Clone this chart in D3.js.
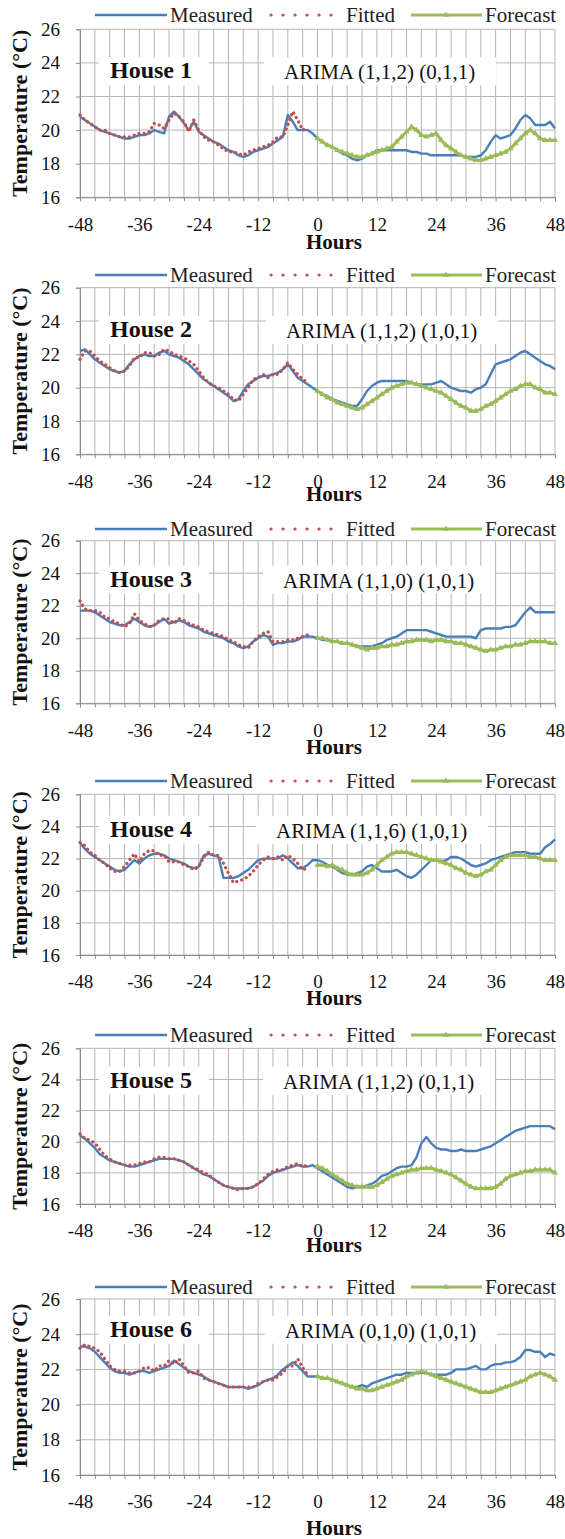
<!DOCTYPE html>
<html><head><meta charset="utf-8">
<script src="https://cdn.jsdelivr.net/npm/d3@7"></script>
<style>body{margin:0;background:#fff}svg{display:block}
svg text{font-family:"Liberation Serif","Tinos","Times New Roman","DejaVu Serif",serif !important;}</style>
</head><body>
<svg id="c" width="565" height="1539"></svg>
<script>
// ---------- DATA ----------
const xTicks = [-48,-36,-24,-12,0,12,24,36,48];
const yTicks = [16,18,20,22,24,26];
const seriesNames = ["Measured","Fitted","Forecast"];
const houseLabels = ["House 1","House 2","House 3","House 4","House 5","House 6"];
const arimaLabels = ["ARIMA (1,1,2) (0,1,1)","ARIMA (1,1,2) (1,0,1)","ARIMA (1,1,0) (1,0,1)","ARIMA (1,1,6) (1,0,1)","ARIMA (1,1,2) (0,1,1)","ARIMA (0,1,0) (1,0,1)"];
const measuredStart = -48, fittedStart = -48, forecastStart = 0;

const measured1 = [20.8,20.6,20.4,20.2,20.0,19.9,19.8,19.7,19.6,19.5,19.5,19.6,
 19.7,19.7,19.8,20.0,19.9,19.8,20.8,21.1,20.8,20.4,20.0,20.5,
 19.9,19.7,19.5,19.3,19.2,19.0,18.8,18.7,18.5,18.4,18.5,18.7,
 18.8,18.9,19.0,19.2,19.4,19.6,20.9,20.5,20.0,20.0,20.0,19.8,
 19.5,19.3,19.1,19.0,18.8,18.6,18.5,18.3,18.2,18.3,18.5,18.6,
 18.8,18.8,18.8,18.8,18.8,18.8,18.8,18.7,18.7,18.6,18.6,18.5,
 18.5,18.5,18.5,18.5,18.5,18.5,18.4,18.4,18.4,18.5,18.8,19.3,
 19.7,19.5,19.6,19.7,20.1,20.6,20.9,20.7,20.3,20.3,20.3,20.5,20.1];
const fitted1 = [20.9,20.6,20.4,20.2,20.0,20.0,19.8,19.7,19.6,19.6,19.6,19.7,
 19.8,19.8,19.9,20.4,20.3,20.1,20.6,21.0,20.8,20.5,19.9,20.6,
 20.0,19.6,19.4,19.3,19.1,18.9,18.7,18.7,18.6,18.5,18.7,18.8,
 18.9,19.0,19.1,19.3,19.6,19.6,20.3,21.1,20.6,20.0,20.2];
const forecast1 = [19.5,19.3,19.1,19.0,18.8,18.7,18.6,18.5,18.4,18.4,18.5,18.6,
 18.7,18.8,18.9,19.0,19.3,19.6,19.9,20.2,20.0,19.7,19.6,19.7,
 19.8,19.4,19.1,18.9,18.7,18.5,18.4,18.3,18.2,18.2,18.3,18.4,
 18.5,18.6,18.7,18.9,19.2,19.5,19.8,20.0,19.8,19.5,19.4,19.4,19.4];

const measured2 = [22.2,22.3,22.0,21.7,21.5,21.3,21.1,21.0,20.9,21.0,21.4,21.7,
 21.9,22.0,21.9,21.9,22.1,22.2,22.0,21.9,21.8,21.6,21.4,21.1,
 20.8,20.5,20.3,20.1,19.9,19.7,19.5,19.2,19.3,19.8,20.2,20.4,
 20.6,20.7,20.7,20.8,20.9,21.1,21.4,21.0,20.6,20.4,20.2,20.0,
 19.8,19.6,19.5,19.3,19.2,19.1,19.0,18.9,18.9,19.3,19.8,20.1,
 20.3,20.4,20.4,20.4,20.4,20.4,20.4,20.3,20.2,20.2,20.2,20.2,
 20.3,20.4,20.2,20.0,19.9,19.8,19.8,19.7,19.9,20.0,20.2,20.8,
 21.4,21.5,21.6,21.7,21.9,22.1,22.2,22.0,21.8,21.6,21.4,21.3,21.1];
const fitted2 = [21.7,22.2,22.2,21.9,21.6,21.4,21.2,21.0,20.9,21.0,21.3,21.8,
 21.8,22.1,22.1,21.9,22.0,22.3,22.2,22.0,21.9,21.8,21.6,21.4,
 21.0,20.6,20.3,20.1,20.0,19.8,19.6,19.3,19.2,19.6,20.0,20.5,
 20.6,20.8,20.6,20.8,20.8,21.1,21.5,21.1,20.8,20.5,20.3];
const forecast2 = [19.8,19.6,19.4,19.3,19.1,19.0,18.9,18.8,18.7,18.8,19.0,19.2,
 19.4,19.6,19.8,20.0,20.1,20.2,20.3,20.3,20.2,20.1,20.0,19.9,
 19.8,19.7,19.5,19.3,19.1,18.9,18.8,18.6,18.6,18.7,18.9,19.0,
 19.2,19.4,19.6,19.8,19.9,20.1,20.2,20.2,20.0,19.9,19.7,19.7,19.6];

const measured3 = [21.7,21.7,21.7,21.6,21.4,21.2,21.0,20.9,20.8,20.8,21.0,21.2,
 21.0,20.8,20.7,20.8,21.0,21.2,20.9,21.0,21.1,21.0,20.8,20.7,
 20.6,20.4,20.3,20.2,20.1,20.0,19.8,19.7,19.5,19.4,19.5,19.8,
 20.0,20.2,20.1,19.6,19.7,19.7,19.8,19.8,19.9,20.1,20.1,20.1,
 20.0,19.9,19.9,19.8,19.8,19.7,19.7,19.6,19.5,19.5,19.5,19.5,
 19.6,19.7,19.9,20.0,20.1,20.3,20.5,20.5,20.5,20.5,20.5,20.4,
 20.3,20.2,20.1,20.1,20.1,20.1,20.1,20.1,20.0,20.5,20.6,20.6,
 20.6,20.6,20.7,20.7,20.8,21.2,21.6,21.9,21.6,21.6,21.6,21.6,21.6];
const fitted3 = [22.3,21.8,21.7,21.7,21.6,21.3,21.2,21.0,20.9,20.7,20.9,21.5,
 21.1,20.9,20.7,20.8,21.1,21.2,21.2,20.9,21.2,21.1,20.9,20.8,
 20.7,20.5,20.4,20.3,20.2,20.1,19.9,19.8,19.6,19.5,19.4,19.8,
 20.1,20.3,20.4,19.8,19.8,19.8,19.9,19.9,20.0,20.1,20.2];
const forecast3 = [20.0,20.0,19.9,19.8,19.8,19.7,19.7,19.6,19.5,19.4,19.3,19.4,
 19.4,19.5,19.5,19.6,19.6,19.7,19.8,19.8,19.9,19.9,19.9,19.8,
 19.9,19.9,19.8,19.8,19.7,19.7,19.6,19.5,19.4,19.3,19.2,19.3,
 19.3,19.4,19.5,19.5,19.6,19.6,19.7,19.8,19.8,19.8,19.8,19.7,19.7];

const measured4 = [23.0,22.6,22.3,22.1,21.9,21.7,21.5,21.3,21.2,21.3,21.6,21.9,
 21.7,22.0,22.2,22.3,22.3,22.2,22.0,21.9,21.8,21.7,21.5,21.4,
 21.5,22.2,22.3,22.2,22.1,20.8,20.8,20.8,20.9,21.1,21.3,21.6,
 21.9,22.0,22.0,22.0,22.0,22.2,22.0,21.7,21.4,21.4,21.6,21.9,
 21.9,21.8,21.6,21.5,21.3,21.1,21.0,21.0,21.1,21.2,21.5,21.6,
 21.4,21.2,21.2,21.2,21.3,21.1,20.9,20.8,21.0,21.3,21.6,21.9,
 21.9,21.8,21.9,22.1,22.1,22.0,21.8,21.6,21.5,21.6,21.7,21.9,
 22.0,22.1,22.2,22.3,22.4,22.4,22.4,22.3,22.3,22.3,22.7,22.9,23.2];
const fitted4 = [23.0,22.8,22.4,22.2,21.9,21.7,21.4,21.2,21.2,21.5,21.9,22.3,
 21.8,22.3,22.5,22.5,22.2,22.2,21.8,21.8,21.8,21.6,21.5,21.3,
 21.5,22.1,22.4,22.2,22.2,21.7,21.1,20.5,20.6,20.7,20.9,21.2,
 21.6,21.9,22.1,22.0,22.1,21.9,22.2,22.0,21.7,21.3,21.4];
const forecast4 = [21.6,21.6,21.5,21.6,21.4,21.3,21.1,21.0,21.0,21.0,21.1,21.3,
 21.6,21.9,22.1,22.3,22.4,22.4,22.4,22.3,22.2,22.1,22.0,21.9,
 21.9,21.8,21.7,21.6,21.4,21.3,21.1,21.0,20.9,21.0,21.2,21.3,
 21.6,21.9,22.1,22.2,22.2,22.2,22.2,22.1,22.1,22.0,21.9,21.9,21.9];

const measured5 = [20.4,20.2,19.9,19.6,19.2,19.0,18.8,18.7,18.6,18.5,18.4,18.4,
 18.5,18.6,18.7,18.8,18.9,18.9,18.9,18.9,18.8,18.7,18.5,18.3,
 18.1,17.9,17.8,17.6,17.4,17.2,17.1,17.0,17.0,17.0,17.0,17.1,
 17.3,17.5,17.8,18.0,18.1,18.2,18.3,18.4,18.5,18.4,18.4,18.5,
 18.3,18.1,17.9,17.7,17.5,17.3,17.1,17.0,17.1,17.1,17.2,17.3,
 17.5,17.8,17.9,18.1,18.3,18.4,18.4,18.5,19.0,19.9,20.3,19.9,
 19.6,19.5,19.5,19.4,19.4,19.5,19.4,19.4,19.4,19.5,19.6,19.7,
 19.9,20.1,20.3,20.5,20.7,20.8,20.9,21.0,21.0,21.0,21.0,21.0,20.8];
const fitted5 = [20.5,20.2,20.1,19.9,19.5,19.1,18.9,18.7,18.6,18.5,18.5,18.5,
 18.6,18.7,18.7,18.9,19.0,19.0,18.9,18.9,18.8,18.7,18.5,18.3,
 18.2,18.0,17.9,17.6,17.4,17.2,17.1,17.0,16.9,17.0,17.0,17.1,
 17.3,17.6,17.9,18.1,18.2,18.2,18.4,18.5,18.6,18.4,18.5];
const forecast5 = [18.4,18.3,18.1,17.9,17.7,17.5,17.3,17.2,17.1,17.1,17.1,17.1,
 17.2,17.4,17.6,17.8,17.9,18.0,18.1,18.2,18.2,18.3,18.3,18.3,
 18.2,18.1,18.0,17.9,17.7,17.5,17.3,17.1,17.0,17.0,17.0,17.0,
 17.1,17.3,17.6,17.8,17.9,18.0,18.1,18.1,18.2,18.2,18.2,18.2,18.0];

const measured6 = [23.3,23.3,23.2,23.0,22.7,22.4,22.1,21.9,21.8,21.8,21.7,21.8,
 21.9,21.9,21.8,21.9,22.0,22.1,22.2,22.5,22.3,22.1,21.9,21.8,
 21.7,21.6,21.4,21.3,21.2,21.1,21.0,21.0,21.0,21.0,20.9,21.0,
 21.1,21.3,21.4,21.5,21.7,22.0,22.2,22.4,22.2,21.9,21.6,21.6,
 21.6,21.5,21.5,21.4,21.3,21.2,21.1,21.0,21.0,21.1,21.0,21.2,
 21.3,21.4,21.5,21.6,21.7,21.7,21.8,21.8,21.8,21.8,21.8,21.7,
 21.7,21.7,21.7,21.8,22.0,22.0,22.0,22.1,22.2,22.0,22.0,22.2,
 22.3,22.3,22.4,22.4,22.5,22.7,23.1,23.1,23.0,23.0,22.7,22.9,22.8];
const fitted6 = [23.2,23.4,23.3,23.2,23.0,22.6,22.2,22.0,21.9,21.9,21.8,21.8,
 21.9,22.1,22.1,21.9,22.2,22.2,22.5,22.3,22.6,22.2,21.8,21.8,
 21.9,21.5,21.4,21.3,21.2,21.1,21.0,21.0,21.0,21.0,21.0,21.0,
 21.2,21.3,21.4,21.4,21.6,21.8,22.2,22.2,22.6,22.1,21.7];
const forecast6 = [21.6,21.5,21.5,21.4,21.3,21.2,21.1,21.0,20.9,20.9,20.8,20.8,
 20.9,21.0,21.1,21.2,21.3,21.4,21.6,21.7,21.8,21.9,21.8,21.7,
 21.6,21.5,21.4,21.3,21.2,21.1,21.0,20.9,20.8,20.7,20.7,20.7,
 20.8,20.9,21.0,21.1,21.2,21.3,21.4,21.6,21.7,21.8,21.7,21.6,21.4];

const measuredAll = [measured1,measured2,measured3,measured4,measured5,measured6];
const fittedAll = [fitted1,fitted2,fitted3,fitted4,fitted5,fitted6];
const forecastAll = [forecast1,forecast2,forecast3,forecast4,forecast5,forecast6];

// ---------- LAYOUT ----------
const layout = [
 {top:29.3, bottom:197.3, legend:15,  label:78.3,  arimaX:284, hours:249.3},
 {top:287.7,bottom:454.3, legend:275, label:337,   arimaX:286, hours:500.7},
 {top:540.7,bottom:703.3, legend:529, label:586.7, arimaX:283, hours:754.3},
 {top:794.3,bottom:955,   legend:781, label:836.7, arimaX:276, hours:1005},
 {top:1048.3,bottom:1204, legend:1035,label:1087.7,arimaX:283, hours:1252.3},
 {top:1299, bottom:1475,  legend:1287,label:1336.7,arimaX:285, hours:1535}
];
const X0 = 80, X1 = 555;
const C = {measured:"#4A7EBB", fitted:"#C0504D", forecast:"#9BBB59", grid:"#B4B4B4", axis:"#8C8C8C", text:"#111"};
const FONT = "Liberation Serif, Tinos, Times New Roman, DejaVu Serif, serif";

const svg = d3.select("#c");
svg.append("rect").attr("width",565).attr("height",1539).attr("fill","#fff");

const x = d3.scaleLinear().domain([-48,48]).range([X0,X1]);
const tri = d3.symbol().type(d3.symbolTriangle).size(16);

layout.forEach((L,i) => {
  const y = d3.scaleLinear().domain([16,26]).range([L.bottom, L.top]);
  const g = svg.append("g");

  // grid
  const vg = d3.range(-48,49,3);
  g.append("g").selectAll("line").data(vg).join("line")
    .attr("x1",d=>x(d)).attr("x2",d=>x(d)).attr("y1",L.top).attr("y2",L.bottom)
    .attr("stroke",C.grid).attr("stroke-width",1);
  g.append("g").selectAll("line").data(yTicks).join("line")
    .attr("x1",X0).attr("x2",X1).attr("y1",d=>y(d)).attr("y2",d=>y(d))
    .attr("stroke",C.grid).attr("stroke-width",1);

  // label boxes (cover gridlines)
  g.append("rect").attr("x",99).attr("y",L.label-21).attr("width",110).attr("height",28).attr("fill","#fff");
  g.append("rect").attr("x",L.arimaX-20).attr("y",L.label-21).attr("width",232).attr("height",28).attr("fill","#fff");

  // axes
  const xa = d3.axisBottom(x).tickValues(vg).tickSize(4).tickPadding(16)
     .tickFormat(d => xTicks.includes(d) ? d : "");
  const gx = g.append("g").attr("transform",`translate(0,${L.bottom})`).call(xa);
  const ya = d3.axisLeft(y).tickValues(yTicks).tickSize(4).tickPadding(16);
  const gy = g.append("g").attr("transform",`translate(${X0},0)`).call(ya);
  [gx,gy].forEach(a=>{
    a.attr("font-family",FONT);
    a.select(".domain").attr("stroke",C.axis);
    a.selectAll(".tick line").attr("stroke",C.axis);
    a.selectAll("text").attr("font-family",FONT).attr("font-size",19).attr("fill",C.text);
  });

  // series
  const mData = measuredAll[i].map((v,k)=>[measuredStart+k, v]);
  const fData = fittedAll[i].map((v,k)=>[fittedStart+k, v]);
  const pData = forecastAll[i].map((v,k)=>[forecastStart+k, v]);
  const line = d3.line().x(d=>x(d[0])).y(d=>y(d[1]));

  g.append("path").attr("d",line(mData)).attr("fill","none")
    .attr("stroke",C.measured).attr("stroke-width",2.4).attr("stroke-linejoin","round");
  g.append("path").attr("d",line(fData)).attr("fill","none")
    .attr("stroke",C.fitted).attr("stroke-width",3.2).attr("stroke-linecap","round")
    .attr("stroke-dasharray","0.1 5");
  g.append("path").attr("d",line(pData)).attr("fill","none")
    .attr("stroke",C.forecast).attr("stroke-width",3).attr("stroke-linejoin","round");
  g.append("g").selectAll("path").data(pData).join("path")
    .attr("transform",d=>`translate(${x(d[0])},${y(d[1])})`)
    .attr("d",tri).attr("fill",C.forecast);

  // legend
  const ly = L.legend, tb = ly + 7;
  g.append("line").attr("x1",95).attr("x2",167).attr("y1",ly).attr("y2",ly)
    .attr("stroke",C.measured).attr("stroke-width",2.6);
  g.append("line").attr("x1",271).attr("x2",331).attr("y1",ly).attr("y2",ly)
    .attr("stroke",C.fitted).attr("stroke-width",3.2).attr("stroke-linecap","round")
    .attr("stroke-dasharray","0.1 11.9");
  g.append("line").attr("x1",411).attr("x2",482).attr("y1",ly).attr("y2",ly)
    .attr("stroke",C.forecast).attr("stroke-width",3);
  g.append("path").attr("transform",`translate(446,${ly})`).attr("d",tri).attr("fill",C.forecast);
  const lx = [170,346,485];
  seriesNames.forEach((s,k)=>{
    g.append("text").attr("x",lx[k]).attr("y",tb).text(s)
      .attr("font-family",FONT).attr("font-size",21).attr("fill","#222");
  });

  // labels
  g.append("text").attr("x",110).attr("y",L.label).text(houseLabels[i])
    .attr("font-family",FONT).attr("font-size",24).attr("font-weight","bold").attr("fill",C.text);
  g.append("text").attr("x",L.arimaX).attr("y",L.label+1).text(arimaLabels[i])
    .attr("font-family",FONT).attr("font-size",21).attr("fill",C.text);

  g.append("text").attr("x",334).attr("y",L.hours).attr("text-anchor","middle").text("Hours")
    .attr("font-family",FONT).attr("font-size",21).attr("font-weight","bold").attr("fill",C.text);
  const cy = (L.top+L.bottom)/2;
  g.append("text").attr("transform",`translate(27,${cy}) rotate(-90)`).attr("text-anchor","middle")
    .text("Temperature (°C)")
    .attr("font-family",FONT).attr("font-size",22).attr("font-weight","bold").attr("fill",C.text);
});
</script>
</body></html>
